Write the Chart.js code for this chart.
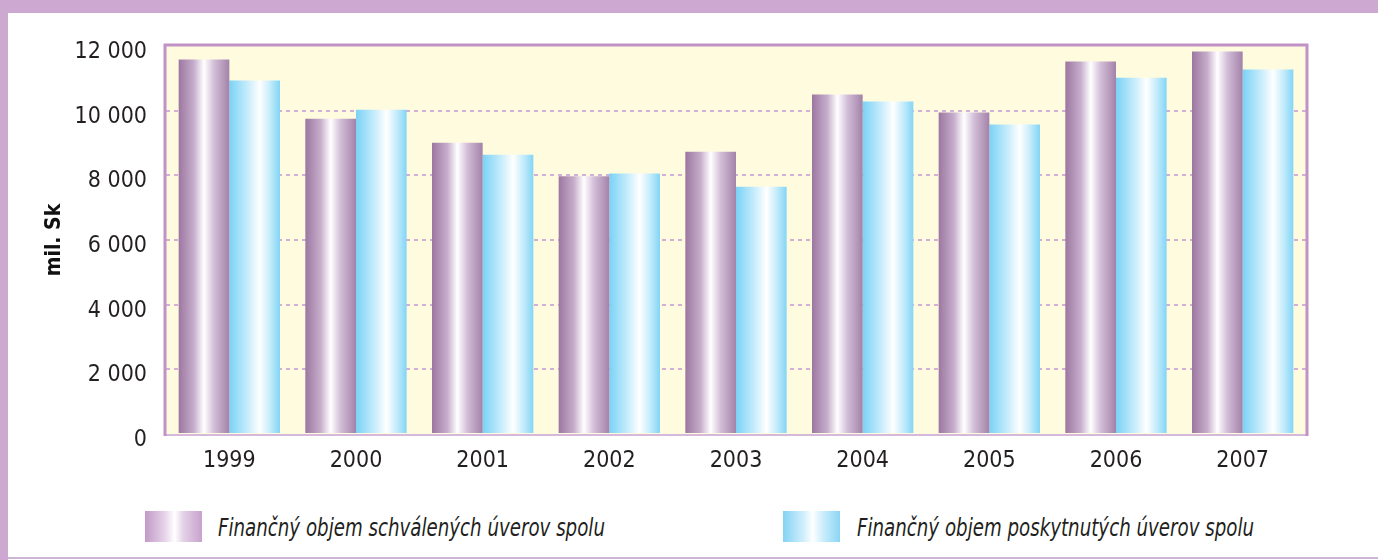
<!DOCTYPE html>
<html>
<head>
<meta charset="utf-8">
<script src="https://cdn.jsdelivr.net/npm/chart.js@4.4.1/dist/chart.umd.min.js"></script>
<style>
    html, body { margin: 0; padding: 0; background: #fff; }
    body { width: 1378px; height: 560px; position: relative; overflow: hidden;
           font-family: "DejaVu Sans Condensed", "Liberation Sans", sans-serif; }
    .band-top { position: absolute; left: 0; top: 0; width: 1378px; height: 13px; background: #CDA9D1; }
    .band-left { position: absolute; left: 0; top: 0; width: 8px; height: 560px; background: #CDA9D1; }
    .band-bottom { position: absolute; left: 8px; top: 557px; width: 1370px; height: 2px; background: #CDB4D6; }
    #wrap { position: absolute; left: 0; top: 0; width: 1378px; height: 500px; }
    .swatch { position: absolute; width: 57px; height: 31px; top: 511px; }
    .legend-text { position: absolute; top: 512px; height: 32px; line-height: 32px;
                   font-size: 25px; font-style: italic; color: #231F20; white-space: nowrap;
                   transform: scaleX(0.81); transform-origin: left center; }
</style>
</head>
<body>
<div class="band-top"></div>
<div class="band-left"></div>
<div class="band-bottom"></div>
<div id="wrap"><canvas id="loanChart"></canvas></div>

<div class="swatch" style="left:145px; background: linear-gradient(to right, #C29AC7 0%, #E6D4E9 35%, #FFFFFF 52%, #E2D0E6 68%, #C8A2CC 100%);"></div>
<div class="legend-text" id="legend0" style="left:218px;"></div>
<div class="swatch" style="left:783px; background: linear-gradient(to right, #84D3F5 0%, #CDEEFB 35%, #FFFFFF 52%, #CCEDFB 70%, #8AD6F5 100%);"></div>
<div class="legend-text" id="legend1" style="left:857px;"></div>

<script>
// Data
const years = ['1999', '2000', '2001', '2002', '2003', '2004', '2005', '2006', '2007'];
const approved = [11580, 9750, 9010, 7970, 8730, 10500, 9940, 11520, 11830];
const granted = [10930, 10030, 8640, 8060, 7645, 10280, 9570, 11020, 11270];
const seriesNames = ['Finančný objem schválených úverov spolu', 'Finančný objem poskytnutých úverov spolu'];
const yTicks = [0, 2000, 4000, 6000, 8000, 10000, 12000];
const yTitle = 'mil. Sk';

const FONT = '"DejaVu Sans Condensed", "Liberation Sans", sans-serif';

const PURPLE_STOPS = [[0, '#9C77A1'], [0.3, '#C6ADCB'], [0.5, '#FFFFFF'], [0.7, '#D2BDD7'], [1, '#A382A9']];
const BLUE_STOPS = [[0, '#7AD2F6'], [0.35, '#C4EBFB'], [0.6, '#FFFFFF'], [0.8, '#C6ECFB'], [1, '#82D5F6']];

document.getElementById('legend0').textContent = seriesNames[0];
document.getElementById('legend1').textContent = seriesNames[1];

// horizontal gradient across one bar, located through the x scale
function barGradient(context, stops) {
    const chart = context.chart;
    const xScale = chart.scales.x;
    if (!chart.chartArea || !xScale) return stops[0][1];
    const center = xScale.getPixelForValue(context.dataIndex);
    const barW = (xScale.width / years.length) * 0.8 / 2;
    const left = context.datasetIndex === 0 ? center - barW : center;
    const g = chart.ctx.createLinearGradient(left, 0, left + barW, 0);
    stops.forEach(s => g.addColorStop(s[0], s[1]));
    return g;
}

// yellow plot background + purple frame
const plotFrame = {
    id: 'plotFrame',
    beforeDraw(chart) {
        const { ctx, chartArea: a } = chart;
        ctx.save();
        ctx.fillStyle = '#FFFBDF';
        ctx.fillRect(a.left, a.top, a.width, a.height);
        ctx.restore();
    },
    afterDatasetsDraw(chart) {
        const { ctx, chartArea: a } = chart;
        ctx.save();
        ctx.strokeStyle = '#D5B8DA';
        ctx.lineWidth = 2;
        ctx.beginPath();
        ctx.moveTo(a.left, a.bottom + 1);
        ctx.lineTo(a.right, a.bottom + 1);
        ctx.stroke();
        ctx.strokeStyle = '#C192C5';
        ctx.lineWidth = 3;
        ctx.beginPath();
        ctx.moveTo(a.left - 1, a.bottom + 2);
        ctx.lineTo(a.left - 1, a.top - 1);
        ctx.lineTo(a.right + 1, a.top - 1);
        ctx.lineTo(a.right + 1, a.bottom + 2);
        ctx.stroke();
        ctx.restore();
    }
};

new Chart(document.getElementById('loanChart'), {
    type: 'bar',
    data: {
        labels: years,
        datasets: [
            {
                label: seriesNames[0],
                data: approved,
                backgroundColor: ctx => barGradient(ctx, PURPLE_STOPS),
                borderWidth: 0
            },
            {
                label: seriesNames[1],
                data: granted,
                backgroundColor: ctx => barGradient(ctx, BLUE_STOPS),
                borderWidth: 0
            }
        ]
    },
    options: {
        responsive: true,
        maintainAspectRatio: false,
        animation: false,
        layout: { padding: { top: 46, right: 72, left: 0, bottom: 0 } },
        datasets: { bar: { categoryPercentage: 0.8, barPercentage: 1.0 } },
        plugins: {
            legend: { display: false },
            tooltip: { enabled: false }
        },
        scales: {
            x: {
                grid: { display: false, drawTicks: false },
                border: { display: false },
                ticks: { color: '#231F20', padding: 13, font: { family: FONT, size: 23 } },
                afterFit: scale => { scale.height = 66; }
            },
            y: {
                min: 0,
                max: 12000,
                afterBuildTicks: scale => { scale.ticks = yTicks.map(v => ({ value: v })); },
                grid: {
                    drawTicks: false,
                    lineWidth: 2,
                    color: c => (c.tick && (c.tick.value === 0 || c.tick.value === 12000)) ? 'rgba(0,0,0,0)' : '#D3AFD5'
                },
                border: { display: false, dash: [4, 4] },
                ticks: {
                    color: '#231F20',
                    padding: 19,
                    labelOffset: 6,
                    font: { family: FONT, size: 23 },
                    callback: v => String(v).replace(/\B(?=(\d{3})+(?!\d))/g, ' ')
                },
                title: {
                    display: true,
                    text: yTitle,
                    color: '#111',
                    font: { family: FONT, size: 21, weight: 'bold' },
                    padding: { top: 42, bottom: 0 }
                },
                afterFit: scale => { scale.width = 166; }
            }
        }
    },
    plugins: [plotFrame]
});
</script>
</body>
</html>
